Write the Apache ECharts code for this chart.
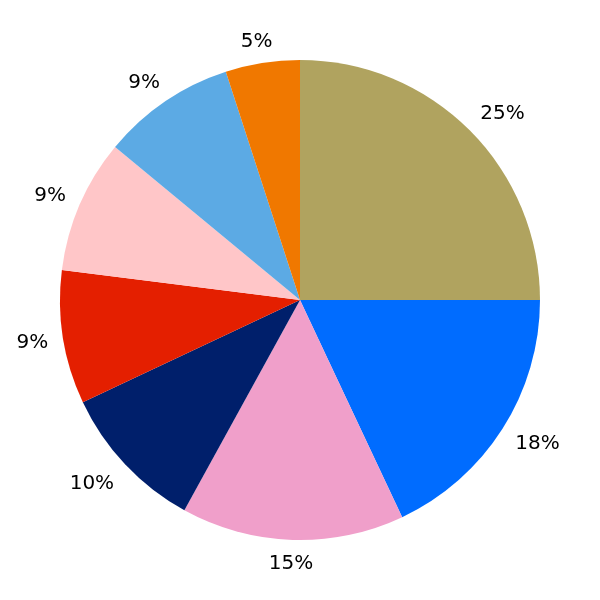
<!DOCTYPE html>
<html>
<head>
<meta charset="utf-8">
<script src="https://cdn.jsdelivr.net/npm/echarts@6/dist/echarts.min.js"></script>
<style>html,body{margin:0;padding:0;background:#fff;}#main{width:600px;height:600px;}</style>
</head>
<body>
<div id="main"></div>
<script>
const values = [25, 18, 15, 10, 9, 9, 9, 5];
const labels = ['25%', '18%', '15%', '10%', '9%', '9%', '9%', '5%'];
const colors = ['#b0a35f', '#006cff', '#f09fca', '#001f6b', '#e41f00', '#ffc6c8', '#5caae4', '#f07800'];

const CX = 300, CY = 300, R = 240, LABEL_D = 255, HALF_INK_H = 7.5, INK_DY = 1.5, K = 1.414;
const total = values.reduce((a, b) => a + b, 0);
const midAngles = [];
let acc = 0;
values.forEach(v => { midAngles.push((acc + v / 2) / total * 2 * Math.PI); acc += v; });
const clamp = v => Math.max(-1, Math.min(1, v));

const chart = echarts.init(document.getElementById('main'));
chart.setOption({
  animation: false,
  series: [{
    type: 'pie',
    center: [CX, CY],
    radius: [0, R],
    startAngle: 90,
    clockwise: true,
    avoidLabelOverlap: false,
    data: values.map((v, i) => ({ value: v, name: labels[i], itemStyle: { color: colors[i] } })),
    label: {
      show: true,
      position: 'outside',
      formatter: p => labels[p.dataIndex],
      fontFamily: 'DejaVu Sans',
      fontSize: 20,
      color: '#000'
    },
    labelLine: { show: false },
    labelLayout: function (p) {
      const a = midAngles[p.dataIndex];
      const sx = Math.sin(a), sy = -Math.cos(a);
      const hw = p.labelRect.width / 2;
      const px = CX + LABEL_D * sx, py = CY + LABEL_D * sy;
      return {
        x: px + hw * clamp(sx * K),
        y: py + HALF_INK_H * clamp(sy * K) + INK_DY,
        align: 'center', verticalAlign: 'middle'
      };
    },
    emphasis: { disabled: true }
  }]
});
</script>
</body>
</html>
